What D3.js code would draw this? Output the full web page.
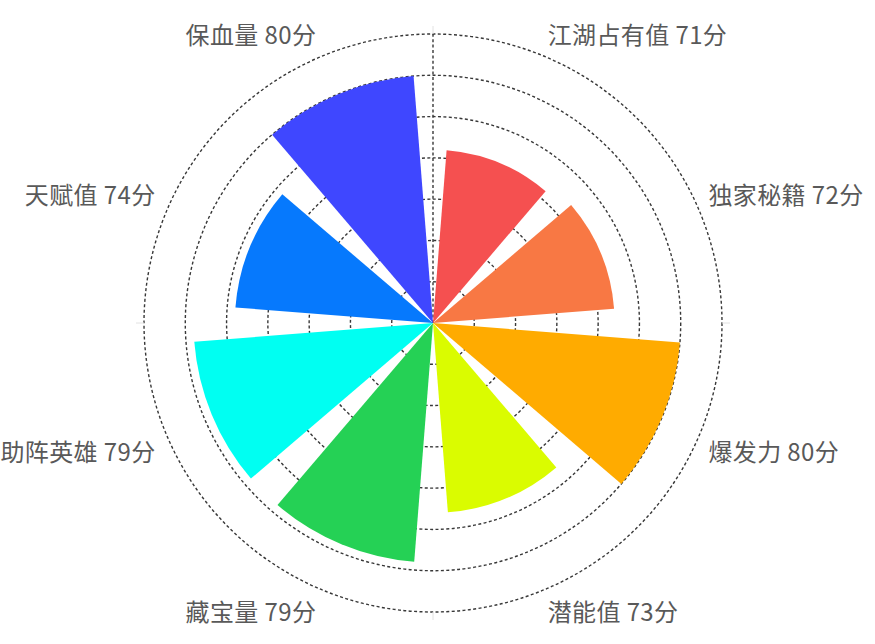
<!DOCTYPE html>
<html>
<head>
<meta charset="utf-8">
<script src="https://cdn.jsdelivr.net/npm/d3@7"></script>
<style>
  html, body { margin: 0; padding: 0; background: #fff; }
  svg { display: block; }
  .label { font-family: "Noto Sans CJK SC", "Noto Sans", sans-serif; font-size: 24px; letter-spacing: 0.4px; fill: #595959; }
</style>
</head>
<body>
<svg id="chart" width="875" height="644"></svg>
<script>
// data
var names = ['江湖占有值', '独家秘籍', '爆发力', '潜能值', '藏宝量', '助阵英雄', '天赋值', '保血量'],
    values = [71, 72, 80, 73, 79, 79, 74, 80],
    colors = ['#f55050', '#f87844', '#ffab00', '#dafc00', '#25d155', '#00fff2', '#0679fd', '#3f47ff'],
    radiusTicks = [55, 60, 65, 70, 75, 80, 85],
    angleTicks = [0, 90, 180, 270];

var svg = d3.select('#chart'),
    cx = 433,
    cy = 323,
    outer = 289;

var root = svg.append('g').attr('transform', 'translate(' + cx + ',' + cy + ')');

// radial value -> pixel radius
var rScale = d3.scaleLinear()
    .domain([50, 85])
    .range([0, outer]);

// category -> angle band (d3 arc angles: 0 at top, clockwise)
var aScale = d3.scaleBand()
    .domain(names)
    .range([0, 2 * Math.PI])
    .paddingInner(0.2)
    .paddingOuter(0.1);

var dash = '3,2.4';

// rings
root.selectAll('.ring').data(radiusTicks).enter()
  .append('circle')
    .classed('ring', true)
    .attr('r', rScale)
    .attr('fill', 'none')
    .attr('stroke', '#383838')
    .attr('stroke-width', 1.4)
    .attr('stroke-dasharray', dash);

// radius axis line
root.append('line')
    .attr('x1', 0).attr('y1', 0)
    .attr('x2', 0).attr('y2', -rScale(85))
    .attr('stroke', '#383838')
    .attr('stroke-width', 1.4)
    .attr('stroke-dasharray', dash);

// faint outer ticks
root.selectAll('.tick').data(angleTicks).enter()
  .append('line')
    .classed('tick', true)
    .attr('x1', 0).attr('y1', -outer)
    .attr('x2', 0).attr('y2', -outer - 8)
    .attr('transform', function(d) { return 'rotate(' + d + ')'; })
    .attr('stroke', '#e2e2e2')
    .attr('stroke-width', 1);

// bars
var arc = d3.arc()
    .innerRadius(0)
    .outerRadius(function(d) { return rScale(d.v); })
    .startAngle(function(d) { return aScale(d.n); })
    .endAngle(function(d) { return aScale(d.n) + aScale.bandwidth(); });

var barData = names.map(function(n, i) { return {n: n, v: values[i], c: colors[i]}; });

root.selectAll('.bar').data(barData).enter()
  .append('path')
    .classed('bar', true)
    .attr('d', arc)
    .attr('fill', function(d) { return d.c; });

// labels, aligned like echarts angle axis labels
var labelR = outer + 8;
root.selectAll('.label').data(barData).enter()
  .append('text')
    .classed('label', true)
    .each(function(d) {
        var a = aScale(d.n) + aScale.bandwidth() / 2,
            px = labelR * Math.sin(a),
            py = -labelR * Math.cos(a),
            anchor = Math.abs(px) / outer < 0.3 ? 'middle' : (px > 0 ? 'start' : 'end'),
            y;
        if (Math.abs(py) / outer < 0.3) {
            y = py + 8;
        } else if (py > 0) {
            y = py + 24;
        } else {
            y = py - 5;
        }
        d3.select(this)
            .attr('x', px + (anchor === 'start' ? 1 : anchor === 'end' ? -3 : 0))
            .attr('y', y)
            .attr('text-anchor', anchor)
            .text(d.n + ' ' + d.v + '分');
    });
</script>
</body>
</html>
